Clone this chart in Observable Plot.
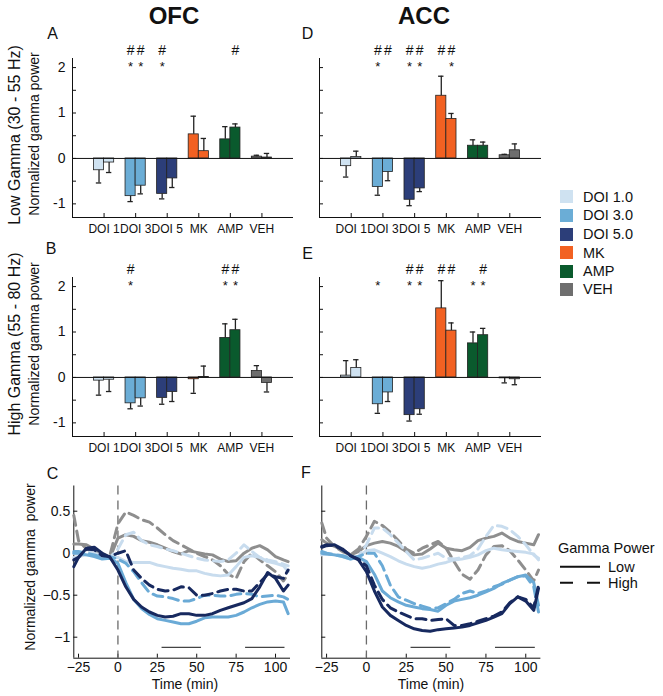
<!DOCTYPE html>
<html><head><meta charset="utf-8">
<script src="https://cdn.jsdelivr.net/npm/d3@7"></script>
<script src="https://cdn.jsdelivr.net/npm/@observablehq/plot@0.6"></script>
<style>
body{margin:0;background:#fff;}
#fig{position:relative;width:663px;height:696px;overflow:hidden;background:#fff;font-family:"Liberation Sans",Arial,sans-serif;color:#111;}
#fig svg{position:absolute;}
.t{position:absolute;white-space:pre;line-height:1;}
</style></head><body><div id="fig"></div>
<script>
// ---------- DATA ----------
const categories = ["DOI 1","DOI 3","DOI 5","MK","AMP","VEH"];
const legendLabels = ["DOI 1.0","DOI 3.0","DOI 5.0","MK","AMP","VEH"];
const drugColors = ["#cfe2f1","#6badd6","#2c3e79","#f26122","#0a5a2d","#6e6e6e"];
// bar values: [window 30-55 min, window 80-105 min] per category
const ofcLowMean  = [[-0.26,-0.09],[-0.83,-0.60],[-0.78,-0.44],[0.53,0.16],[0.42,0.68],[0.04,0.02]];
const ofcLowSem   = [[0.28,0.22],[0.12,0.18],[0.11,0.20],[0.40,0.28],[0.28,0.08],[0.03,0.09]];
const ofcLowHash  = ["--","##","#-","--","-#","--"];
const ofcLowStar  = ["--","**","*-","--","--","--"];
const accLowMean  = [[-0.17,0.03],[-0.63,-0.30],[-0.91,-0.66],[1.38,0.87],[0.28,0.28],[0.07,0.18]];
const accLowSem   = [[0.24,0.13],[0.18,0.19],[0.13,0.07],[0.43,0.12],[0.13,0.08],[0.02,0.14]];
const accLowHash  = ["--","##","##","##","--","--"];
const accLowStar  = ["--","*-","**","-*","--","--"];
const ofcHighMean = [[-0.07,-0.05],[-0.57,-0.46],[-0.45,-0.32],[-0.04,0.01],[0.87,1.04],[0.14,-0.12]];
const ofcHighSem  = [[0.32,0.26],[0.12,0.17],[0.14,0.21],[0.31,0.24],[0.31,0.24],[0.12,0.20]];
const ofcHighHash = ["--","#-","--","--","##","--"];
const ofcHighStar = ["--","*-","--","--","**","--"];
const accHighMean = [[0.04,0.21],[-0.59,-0.33],[-0.83,-0.70],[1.52,1.03],[0.75,0.93],[-0.02,-0.04]];
const accHighSem  = [[0.33,0.18],[0.20,0.20],[0.13,0.11],[0.61,0.17],[0.25,0.15],[0.10,0.12]];
const accHighHash = ["--","--","##","##","-#","--"];
const accHighStar = ["--","*-","**","--","**","--"];
const barYTicks = [-1,0,1,2];
const barYMinor = [-1,-0.5,0,0.5,1,1.5,2];

// time courses (min) and normalized gamma power
const timePoints = [-28,-25,-20,-15,-10,-5,0,5,10,15,20,25,30,35,40,45,50,55,60,65,70,75,80,85,90,95,100,105,108];
const ofcVehHigh  = [0.45,0.15,0.05,0.02,-0.03,-0.02,0.35,0.49,0.45,0.4,0.37,0.3,0.22,0.15,0.1,0.05,0.0,-0.04,-0.08,-0.15,-0.25,-0.3,-0.1,0.0,-0.08,-0.15,-0.22,-0.33,-0.25];
const ofcVehLow   = [0.11,0.11,0.1,0.05,0.0,-0.05,0.18,0.22,0.2,0.15,0.13,0.1,0.06,0.02,-0.01,0.03,0.01,-0.01,-0.02,-0.07,-0.1,-0.09,0.0,0.06,0.09,0.04,-0.04,-0.08,-0.1];
const ofcDoi1High = [0.0,0.0,0.02,0.0,-0.03,-0.05,0.05,0.22,0.25,0.15,0.1,0.08,0.05,0.03,0.0,-0.03,-0.06,-0.08,-0.09,-0.1,-0.08,0.0,0.1,0.02,-0.05,-0.08,-0.1,-0.13,-0.15];
const ofcDoi1Low  = [-0.05,-0.04,-0.02,-0.01,-0.04,-0.05,-0.05,-0.1,-0.11,-0.11,-0.11,-0.14,-0.16,-0.18,-0.19,-0.21,-0.21,-0.24,-0.26,-0.27,-0.26,-0.16,-0.05,-0.03,-0.05,-0.1,-0.12,-0.15,-0.22];
const ofcDoi3High = [0.02,0.02,0.0,-0.02,-0.05,-0.04,-0.07,-0.12,-0.22,-0.35,-0.47,-0.51,-0.52,-0.54,-0.57,-0.57,-0.54,-0.5,-0.5,-0.51,-0.51,-0.49,-0.48,-0.49,-0.52,-0.51,-0.5,-0.52,-0.55];
const ofcDoi3Low  = [0.0,0.0,-0.02,-0.04,-0.07,-0.06,-0.12,-0.35,-0.55,-0.66,-0.73,-0.78,-0.8,-0.82,-0.84,-0.84,-0.81,-0.77,-0.76,-0.76,-0.76,-0.74,-0.7,-0.65,-0.61,-0.58,-0.57,-0.58,-0.72];
const ofcDoi5High = [-0.08,-0.05,0.05,0.04,-0.03,-0.04,0.0,0.03,-0.2,-0.3,-0.38,-0.43,-0.45,-0.44,-0.4,-0.41,-0.5,-0.5,-0.48,-0.45,-0.43,-0.43,-0.45,-0.45,-0.35,-0.25,-0.28,-0.3,-0.2];
const ofcDoi5Low  = [-0.16,-0.05,0.06,0.07,0.0,-0.05,-0.2,-0.4,-0.55,-0.64,-0.7,-0.74,-0.76,-0.75,-0.72,-0.72,-0.74,-0.74,-0.72,-0.68,-0.65,-0.62,-0.59,-0.54,-0.4,-0.23,-0.3,-0.45,-0.38];
const accVehHigh  = [0.36,0.18,0.08,0.02,-0.02,0.05,0.2,0.38,0.33,0.25,0.15,0.05,0.0,0.06,0.1,0.14,0.06,-0.1,-0.25,-0.31,-0.2,-0.02,0.08,0.09,0.03,-0.08,-0.2,-0.33,-0.2];
const accVehLow   = [0.16,0.12,0.08,0.04,-0.02,0.02,0.09,0.12,0.14,0.12,0.08,0.02,-0.02,-0.01,0.05,0.12,0.06,0.04,0.03,0.07,0.15,0.18,0.2,0.24,0.18,0.14,0.12,0.1,0.22];
const accDoi1High = [0.0,0.0,-0.01,-0.03,-0.05,-0.04,0.1,0.3,0.3,0.22,0.12,0.02,-0.08,-0.06,-0.03,0.0,-0.06,-0.07,-0.05,-0.03,0.05,0.2,0.33,0.32,0.28,0.2,0.1,-0.02,-0.06];
const accDoi1Low  = [-0.02,-0.01,-0.02,-0.04,-0.07,-0.04,0.03,0.04,0.0,-0.04,-0.09,-0.13,-0.16,-0.18,-0.16,-0.13,-0.11,-0.08,-0.07,-0.05,-0.02,0.03,0.06,0.04,0.03,0.02,0.01,-0.01,-0.08];
const accDoi3High = [0.02,0.0,-0.02,-0.03,-0.06,-0.04,0.0,0.0,-0.15,-0.38,-0.52,-0.56,-0.6,-0.63,-0.66,-0.65,-0.6,-0.55,-0.48,-0.45,-0.48,-0.45,-0.4,-0.37,-0.32,-0.28,-0.27,-0.4,-0.7];
const accDoi3Low  = [0.0,-0.01,-0.02,-0.04,-0.07,-0.05,-0.1,-0.25,-0.45,-0.53,-0.58,-0.62,-0.64,-0.66,-0.67,-0.69,-0.62,-0.57,-0.55,-0.53,-0.5,-0.46,-0.42,-0.36,-0.32,-0.28,-0.26,-0.35,-0.62];
const accDoi5High = [0.08,0.1,0.09,0.04,-0.03,-0.07,-0.15,-0.38,-0.55,-0.65,-0.7,-0.74,-0.78,-0.78,-0.8,-0.79,-0.78,-0.86,-0.86,-0.84,-0.81,-0.78,-0.75,-0.7,-0.59,-0.52,-0.55,-0.65,-0.38];
const accDoi5Low  = [0.07,0.09,0.1,0.05,-0.03,-0.08,-0.22,-0.45,-0.64,-0.74,-0.8,-0.86,-0.9,-0.92,-0.93,-0.91,-0.9,-0.89,-0.88,-0.86,-0.83,-0.8,-0.76,-0.72,-0.6,-0.52,-0.57,-0.68,-0.42];
const lineColors = {veh:"#8e8e8e", doi1:"#c8dcee", doi3:"#6aaad6", doi5:"#17295f"};
const timeTicks = [-25,0,25,50,75,100];
const lineYTicks = [0.5,0,-0.5,-1];
const sigWindows = [[28,53],[81,106]];

// ---------- LAYOUT HELPERS ----------
const fig = document.getElementById("fig");
const FONT = '"Liberation Sans", Arial, sans-serif';
function addText(txt, x, y, size, o = {}) {
  const d = document.createElement("div");
  d.className = "t";
  d.textContent = txt;
  d.style.left = x + "px"; d.style.top = y + "px";
  d.style.fontSize = size + "px";
  if (o.bold) d.style.fontWeight = "bold";
  const tx = o.anchor === "start" ? "0" : "-50%";
  d.style.transform = `translate(${tx},-50%)` + (o.rotate ? " rotate(-90deg)" : "");
  fig.appendChild(d);
}
function place(svg, left, top) { svg.style.left = left + "px"; svg.style.top = top + "px"; fig.appendChild(svg); }
const hyph = d => d < 0 ? "-" + Math.abs(d) : String(d);
const minus = d => d < 0 ? "\u2212" + Math.abs(d) : String(d);

function barPanel({means, sems, hashes, stars, left, top, mL, mR, showY}) {
  const W = 260, H = 210, mT = 28, mB = 23;
  const fw = W - mL - mR, fh = H - mT - mB;
  const yDom = [-1.3, 2.2];
  const rows = [];
  means.forEach((pair, i) => pair.forEach((m, w) => {
    const dir = m < 0 ? -1 : 1;
    rows.push({pos: i + 1 + (w ? 0.16 : -0.16), mean: m, end: m + dir * sems[i][w],
      color: drugColors[i], hash: hashes[i][w] === "#" ? "#" : "", star: stars[i][w] === "*" ? "*" : ""});
  }));
  const marks = [
    Plot.rect(rows, {x1: d => d.pos - 0.16, x2: d => d.pos + 0.16, y1: 0, y2: "mean", fill: "color", stroke: "#222", strokeWidth: 0.8}),
    Plot.ruleX(rows, {x: "pos", y1: "mean", y2: "end", stroke: "#222", strokeWidth: 1.3}),
    Plot.ruleY(rows, {y: "end", x1: d => d.pos - 0.085, x2: d => d.pos + 0.085, stroke: "#222", strokeWidth: 1.3}),
    Plot.ruleY([0], {stroke: "#111", strokeWidth: 1}),
    Plot.ruleX([0], {stroke: "#111", strokeWidth: 1}),
    Plot.ruleY([yDom[0]], {stroke: "#111", strokeWidth: 1}),
    Plot.tickY(barYMinor, {y: d => d, insetRight: fw - 4, stroke: "#111"}),
    Plot.tickX(d3.range(1, 7), {x: d => d, insetTop: fh - 4, stroke: "#111"}),
    Plot.text(rows.filter(d => d.hash), {x: "pos", frameAnchor: "top", text: "hash", dy: -13, fontSize: 14}),
    Plot.text(rows.filter(d => d.star), {x: "pos", frameAnchor: "top", text: "star", dy: 3, fontSize: 13}),
    Plot.axisX({ticks: d3.range(1, 7), tickFormat: d => categories[d - 1], tickSize: 0, tickPadding: 7, fontSize: 12, label: null})
  ];
  if (showY) marks.push(Plot.axisY({ticks: barYTicks, tickFormat: hyph, tickSize: 0, tickPadding: 7, fontSize: 14, label: null}));
  const svg = Plot.plot({
    width: W, height: H, marginLeft: mL, marginRight: mR, marginTop: mT, marginBottom: mB,
    x: {domain: [0, 7]}, y: {domain: yDom, axis: showY ? undefined : null},
    style: {fontFamily: FONT, fontSize: "14px", color: "#111", background: "transparent", overflow: "visible"},
    marks
  });
  place(svg, left, top);
}

function linePanel({series, left, mL, mR, showY}) {
  const W = 262, H = 226, mT = 15.5, mB = 38.3, top = 470;
  const fw = W - mL - mR, fh = H - mT - mB;
  const xDom = [-28, 109.5], yDom = [-1.25, 0.8];
  const marks = [
    Plot.ruleX([xDom[0]], {stroke: "#111"}),
    Plot.ruleY([yDom[0]], {stroke: "#111"}),
    Plot.tickY(lineYTicks, {y: d => d, insetRight: fw - 4, stroke: "#111"}),
    Plot.tickX(timeTicks, {x: d => d, insetTop: fh - 4, stroke: "#111"}),
    Plot.ruleX([0], {stroke: "#6b6b6b", strokeWidth: 1.3, strokeDasharray: "9,6"}),
    Plot.ruleY(sigWindows, {x1: d => d[0], x2: d => d[1], y: -1.12, stroke: "#444", strokeWidth: 1.2})
  ];
  for (const s of series) {
    const data = timePoints.map((t, i) => ({t, v: s.values[i]}));
    marks.push(Plot.line(data, {x: "t", y: "v", stroke: s.color, strokeWidth: 3,
      strokeDasharray: s.dashed ? "10,6" : null, strokeLinejoin: "round"}));
  }
  marks.push(Plot.axisX({ticks: timeTicks, tickFormat: minus, tickSize: 0, tickPadding: 4, fontSize: 14, label: null}));
  if (showY) marks.push(Plot.axisY({ticks: lineYTicks, tickFormat: minus, tickSize: 0, tickPadding: 3.5, fontSize: 14, label: null}));
  const svg = Plot.plot({
    width: W, height: H, marginLeft: mL, marginRight: mR, marginTop: mT, marginBottom: mB,
    x: {domain: xDom}, y: {domain: yDom, axis: showY ? undefined : null},
    style: {fontFamily: FONT, fontSize: "14px", color: "#111", background: "transparent", overflow: "visible"},
    marks
  });
  place(svg, left, top);
}

// ---------- PANELS ----------
barPanel({means: ofcLowMean, sems: ofcLowSem, hashes: ofcLowHash, stars: ofcLowStar, left: 40, top: 30, mL: 32, mR: 7, showY: true});
barPanel({means: accLowMean, sems: accLowSem, hashes: accLowHash, stars: accLowStar, left: 287, top: 30, mL: 32, mR: 6, showY: false});
barPanel({means: ofcHighMean, sems: ofcHighSem, hashes: ofcHighHash, stars: ofcHighStar, left: 40, top: 249, mL: 32, mR: 7, showY: true});
barPanel({means: accHighMean, sems: accHighSem, hashes: accHighHash, stars: accHighStar, left: 287, top: 249, mL: 32, mR: 6, showY: false});

const mk = (values, color, dashed) => ({values, color, dashed});
linePanel({left: 40, mL: 33.3, mR: 12, showY: true, series: [
  mk(ofcVehHigh, lineColors.veh, true), mk(ofcVehLow, lineColors.veh, false),
  mk(ofcDoi1High, lineColors.doi1, true), mk(ofcDoi1Low, lineColors.doi1, false),
  mk(ofcDoi3High, lineColors.doi3, true), mk(ofcDoi3Low, lineColors.doi3, false),
  mk(ofcDoi5High, lineColors.doi5, true), mk(ofcDoi5Low, lineColors.doi5, false)]});
linePanel({left: 288, mL: 33.3, mR: 9.6, showY: false, series: [
  mk(accVehHigh, lineColors.veh, true), mk(accVehLow, lineColors.veh, false),
  mk(accDoi1High, lineColors.doi1, true), mk(accDoi1Low, lineColors.doi1, false),
  mk(accDoi3High, lineColors.doi3, true), mk(accDoi3Low, lineColors.doi3, false),
  mk(accDoi5High, lineColors.doi5, true), mk(accDoi5Low, lineColors.doi5, false)]});

// ---------- TEXT ----------
addText("OFC", 174, 16, 24, {bold: true});
addText("ACC", 424, 16, 24, {bold: true});
addText("A", 52.5, 34, 16); addText("D", 307.5, 34, 16);
addText("B", 51, 249, 16); addText("E", 307.5, 254, 16);
addText("C", 52.5, 473.5, 16); addText("F", 306, 473, 16);
addText("Low Gamma (30 - 55 Hz)", 14.5, 135, 16, {rotate: true});
addText("Normalized gamma power", 34, 134, 14, {rotate: true});
addText("High Gamma (55 - 80 Hz)", 14.5, 343.5, 16, {rotate: true});
addText("Normalized gamma power", 34, 343.5, 14, {rotate: true});
addText("Normalized gamma\u00a0 power", 30, 567, 14, {rotate: true});
addText("Time (min)", 185, 684, 14);
addText("Time (min)", 431, 684, 14);

// bar legend
const legY = [196.7, 215, 234, 252.7, 271, 289.3];
legendLabels.forEach((lab, i) => {
  const sw = document.createElement("div");
  sw.style.cssText = `position:absolute;left:560px;top:${legY[i] - 6.5}px;width:13px;height:13px;background:${drugColors[i]};`;
  fig.appendChild(sw);
  addText(lab, 583, legY[i], 14.5, {anchor: "start"});
});
// line-style legend
addText("Gamma Power", 558, 548, 14.5, {anchor: "start"});
addText("Low", 608, 566.5, 14.5, {anchor: "start"});
addText("High", 608, 582.5, 14.5, {anchor: "start"});
const ns = "http://www.w3.org/2000/svg";
const lg = document.createElementNS(ns, "svg");
lg.setAttribute("width", 50); lg.setAttribute("height", 30);
lg.style.left = "555px"; lg.style.top = "560px";
[[6.7, null], [22.7, "13,14"]].forEach(([y, dash]) => {
  const l = document.createElementNS(ns, "line");
  l.setAttribute("x1", 5); l.setAttribute("x2", 45); l.setAttribute("y1", y); l.setAttribute("y2", y);
  l.setAttribute("stroke", "#111"); l.setAttribute("stroke-width", 2);
  if (dash) l.setAttribute("stroke-dasharray", dash);
  lg.appendChild(l);
});
fig.appendChild(lg);
</script></body></html>
